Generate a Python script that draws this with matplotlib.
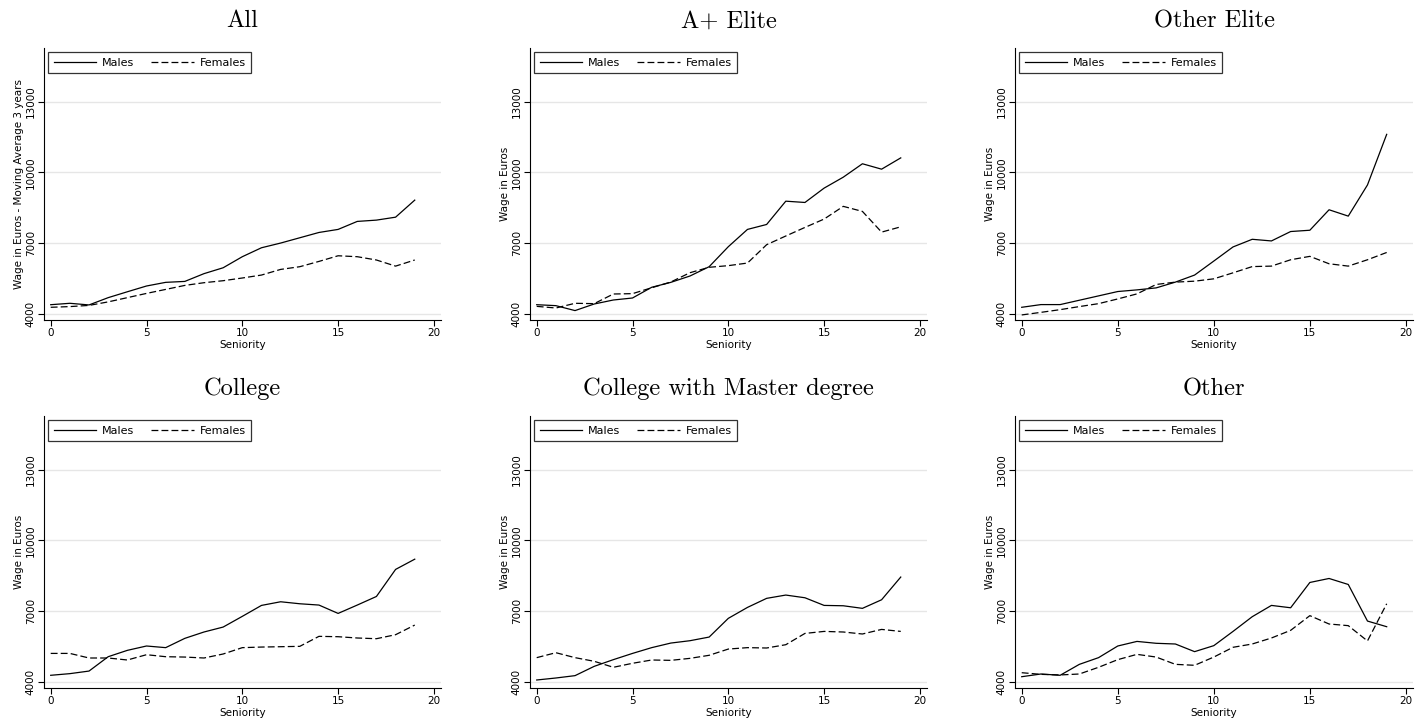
import numpy as np
import matplotlib
matplotlib.use("Agg")
import matplotlib.pyplot as plt

seniority = list(range(20))

titles = ["All", "A+ Elite", "Other Elite",
          "College", "College with Master degree", "Other"]
ylabels = ["Wage in Euros - Moving Average 3 years"] + ["Wage in Euros"] * 5

males_all = [4380, 4440, 4370, 4680, 4930, 5175, 5330, 5370, 5700, 5950,
             6420, 6800, 7000, 7225, 7450, 7580, 7920, 7975, 8100, 8825]
females_all = [4270, 4300, 4350, 4500, 4680, 4860, 5030, 5200, 5315, 5400,
               5515, 5640, 5880, 5995, 6220, 6460, 6420, 6280, 6020, 6280]

males_aplus = [4380, 4340, 4130, 4410, 4580, 4665, 5120, 5330, 5600, 5995,
               6845, 7580, 7790, 8780, 8725, 9335, 9800, 10370, 10140, 10620]
females_aplus = [4310, 4240, 4440, 4425, 4835, 4850, 5100, 5345, 5740, 5970,
                 6040, 6150, 6930, 7300, 7665, 8020, 8560, 8345, 7465, 7690]

males_oelite = [4270, 4385, 4385, 4570, 4755, 4940, 5010, 5095, 5340, 5640,
                6235, 6835, 7160, 7090, 7490, 7545, 8415, 8145, 9470, 11620]
females_oelite = [3945, 4055, 4170, 4300, 4425, 4625, 4840, 5240, 5340, 5380,
                  5480, 5735, 6000, 6020, 6290, 6435, 6120, 6020, 6290, 6600]

males_college = [4270, 4340, 4450, 5060, 5330, 5515, 5445, 5840, 6110, 6320,
                 6775, 7240, 7395, 7310, 7255, 6900, 7255, 7620, 8770, 9205]
females_college = [5200, 5200, 5005, 5005, 4920, 5145, 5060, 5045, 5005, 5175,
                   5445, 5470, 5485, 5500, 5925, 5910, 5855, 5825, 5995, 6405]

males_master = [4070, 4155, 4255, 4650, 4935, 5200, 5445, 5640, 5740, 5895,
                6690, 7155, 7540, 7680, 7565, 7240, 7225, 7115, 7480, 8445]
females_master = [5020, 5230, 5020, 4865, 4610, 4780, 4920, 4905, 4990, 5120,
                  5385, 5445, 5430, 5570, 6050, 6135, 6110, 6025, 6220, 6135]

males_other = [4210, 4325, 4270, 4735, 5020, 5515, 5710, 5630, 5600, 5275,
               5530, 6135, 6760, 7240, 7140, 8215, 8385, 8130, 6575, 6335]
females_other = [4380, 4310, 4285, 4325, 4610, 4935, 5160, 5045, 4735, 4695,
                 5045, 5460, 5600, 5855, 6180, 6805, 6450, 6380, 5730, 7310]

males = [males_all, males_aplus, males_oelite, males_college, males_master, males_other]
females = [females_all, females_aplus, females_oelite, females_college, females_master, females_other]

yticks = [4000, 7000, 10000, 13000]
xticks = [0, 5, 10, 15, 20]

W, H = 1420, 723
fig = plt.figure(figsize=(W / 100, H / 100), dpi=100)

# axes boxes in pixels: left, right, top, bottom
lefts = [44, 530, 1015]
rights = [441, 927, 1413]
tops = [48, 416]
bottoms = [320, 688]

for i in range(6):
    r, c = divmod(i, 3)
    l, rr = lefts[c], rights[c]
    t, b = tops[r], bottoms[r]
    aw, ah = rr - l, b - t
    ax = fig.add_axes([l / W, 1 - b / H, aw / W, ah / H])
    for y in yticks:
        ax.axhline(y, color="#e6e6e6", lw=1.0, zorder=0)
    ax.plot(seniority, males[i], color="black", lw=0.9, label="Males")
    ax.plot(seniority, females[i], color="black", lw=0.9, ls=(0, (5.5, 2.5)),
            label="Females")
    ax.set_xlim(-0.35, 20.37)
    ax.set_ylim(3730, 15290)
    ax.set_xticks(xticks)
    ax.set_yticks(yticks)
    ax.set_yticklabels([str(v) for v in yticks], rotation=90, va="center")
    ax.tick_params(labelsize=7.5, length=4, width=0.8, pad=2)
    for s in ["top", "right"]:
        ax.spines[s].set_visible(False)
    ax.spines["left"].set_linewidth(0.8)
    ax.spines["bottom"].set_linewidth(0.8)
    ax.set_xlabel("Seniority", fontsize=7.5, labelpad=1.5)
    ax.set_ylabel(ylabels[i], fontsize=7.5, labelpad=1)
    ax.set_title(titles[i], family="cmr10", fontsize=17.6, pad=15)
    leg = ax.legend(loc="upper left", ncol=2, fontsize=8, frameon=True,
                    fancybox=False, edgecolor="black", handlelength=3.8,
                    handletextpad=0.55, columnspacing=1.55, borderpad=0.5,
                    borderaxespad=0, bbox_to_anchor=(4 / aw, 1 - 4 / ah))
    leg.get_frame().set_linewidth(0.9)

fig.savefig("out.png", dpi=100, facecolor="white")
